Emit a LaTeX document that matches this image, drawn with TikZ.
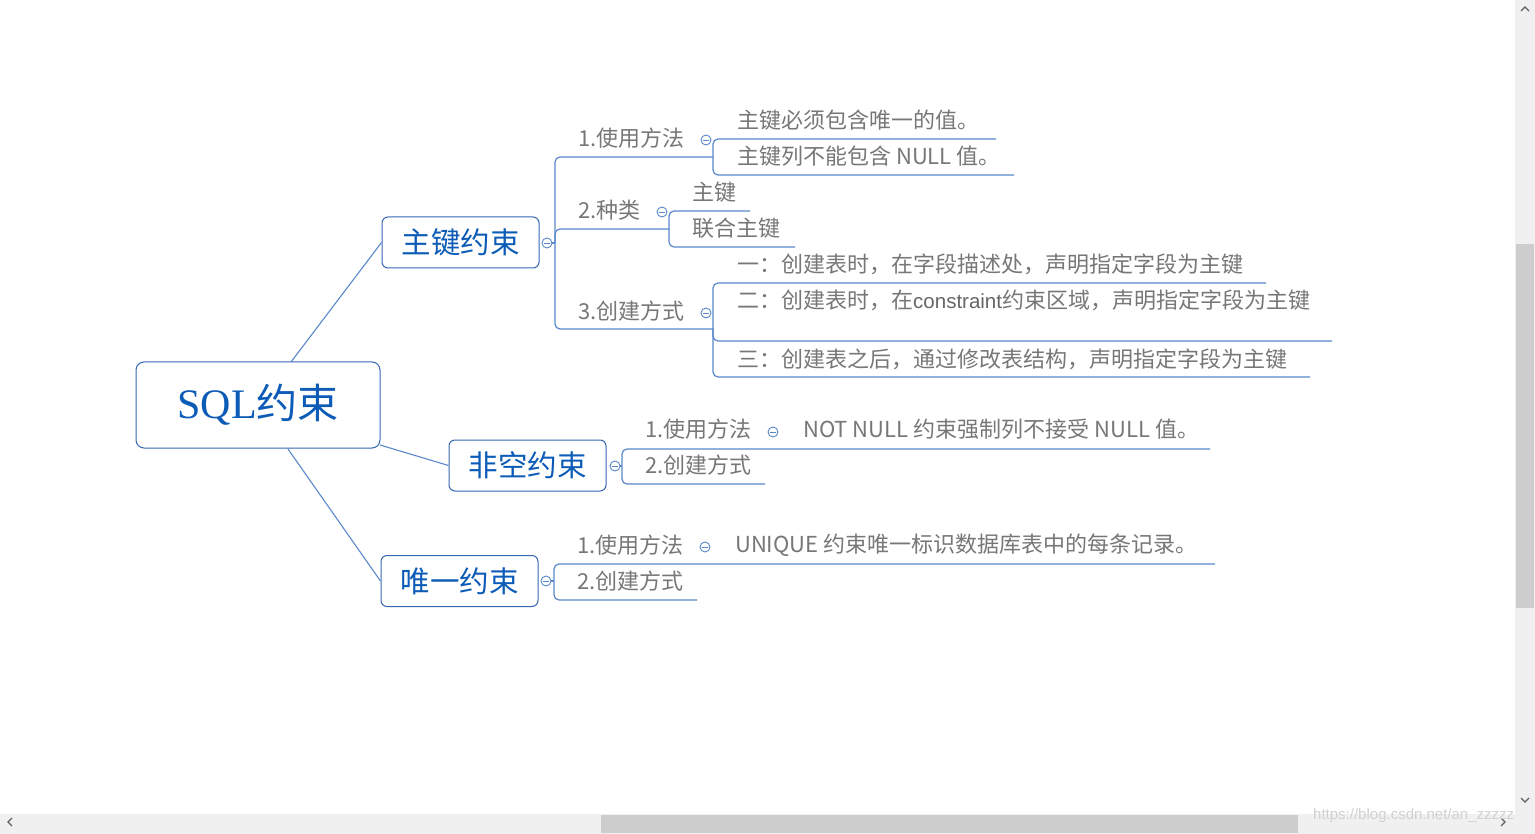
\documentclass[tikz,border=0pt]{standalone}
\usepackage{fontspec}
\setmainfont{Noto Sans CJK SC}
\newfontfamily\serifL{Liberation Serif}
\newfontfamily\sansL{Liberation Sans}
\definecolor{linec}{HTML}{5A88CC}
\definecolor{boxc}{HTML}{3567B2}
\definecolor{titlec}{HTML}{0B5BB7}
\definecolor{greyt}{HTML}{777777}
\definecolor{sbbg}{HTML}{F0F0F0}
\definecolor{sbthumb}{HTML}{CDCDCD}
\definecolor{sbarrow}{HTML}{606060}
\begin{document}
\begin{tikzpicture}[x=1pt,y=-1pt,
  conn/.style={draw=linec,line width=1.2pt,rounded corners=5pt},
  topic/.style={draw=boxc,line width=1pt,rounded corners=6pt,text=titlec,font=\fontsize{29.5}{30}\selectfont,minimum width=157pt,minimum height=51pt,inner sep=0pt},
  sub/.style={anchor=west,inner sep=0pt,text=greyt,font=\fontsize{22}{23}\selectfont},
  fold/.style={circle,draw=linec,fill=white,line width=0.9pt,minimum size=10pt,inner sep=0pt,
    path picture={\draw[linec,line width=0.8pt]([xshift=-2.6pt]path picture bounding box.center)--([xshift=2.6pt]path picture bounding box.center);}}
]
\useasboundingbox (0,0) rectangle (1535,834);
\fill[white] (0,0) rectangle (1535,834);

% ---- scrollbars ----
\fill[sbbg] (1515,0) rectangle (1535,814);
\fill[sbthumb] (1516,244) rectangle (1534,608);
\fill[sbbg] (0,814) rectangle (1535,834);
\fill[sbthumb] (601,815) rectangle (1298,833);
\draw[sbarrow,line width=1.3pt] (1521,11) -- (1525,7) -- (1529,11);
\draw[sbarrow,line width=1.3pt] (1521,798) -- (1525,802) -- (1529,798);
\draw[sbarrow,line width=1.3pt] (12,818) -- (8,822) -- (12,826);
\draw[sbarrow,line width=1.3pt] (1501,818) -- (1505,822) -- (1501,826);
\node[anchor=west,inner sep=0pt,text=black!18,font=\sansL\fontsize{15}{16}\selectfont] (wm) at (1313,816) {https://blog.csdn.net/an\_zzzzz};

% ---- root ----
\node[draw=boxc,line width=1pt,rounded corners=8pt,minimum width=244pt,minimum height=86pt,inner sep=0pt,text=titlec] (root) at (258,405)
  {{\serifL\fontsize{42}{44}\selectfont SQL}{\fontsize{41}{44}\selectfont 约束}};

% ---- main topics ----
\node[topic] (pk) at (460.5,242.5) {主键约束};
\node[topic] (nn) at (527.5,465.5) {非空约束};
\node[topic] (uq) at (459.5,581) {唯一约束};

\coordinate (r1) at (291,362);
\coordinate (r2) at (380,445);
\coordinate (r3) at (288,449);
\draw[linec,line width=1.1pt] (r1) -- (pk.west);
\draw[linec,line width=1.1pt] (r2) -- (nn.west);
\draw[linec,line width=1.1pt] (r3) -- (uq.west);

% ---- fold markers ----
\node[fold] (f1) at (547,243) {};
\node[fold] (f2) at (615,466) {};
\node[fold] (f3) at (546,581) {};
\node[fold] (f11) at (706,140) {};
\node[fold] (f12) at (662,212) {};
\node[fold] (f13) at (706,313) {};
\node[fold] (f21) at (773,432) {};
\node[fold] (f31) at (705,547) {};

% ---- 主键约束 children ----
\coordinate (j1) at (555,243);
\coordinate (a1) at (713,157);
\coordinate (a2) at (669,229);
\coordinate (a3) at (713,329);
\draw[conn] (f1.east) -- (j1);
\draw[conn] (j1) |- (a1);
\draw[conn] (j1) |- (a2);
\draw[conn] (j1) |- (a3);
\node[sub] (t11) at (578,138) {1.使用方法};
\node[sub] (t12) at (578,210) {2.种类};
\node[sub] (t13) at (578,311) {3.创建方式};

\coordinate (e111) at (996,139);
\coordinate (e112) at (1014,175);
\draw[conn] (a1) |- (e111);
\draw[conn] (a1) |- (e112);
\node[sub] (t111) at (737,120) {主键必须包含唯一的值。};
\node[sub] (t112) at (737,156) {主键列不能包含 NULL 值。};

\coordinate (e121) at (750,211);
\coordinate (e122) at (795,247);
\draw[conn] (a2) |- (e121);
\draw[conn] (a2) |- (e122);
\node[sub] (t121) at (692,192) {主键};
\node[sub] (t122) at (692,228) {联合主键};

\coordinate (e131) at (1266,283);
\coordinate (e132) at (1332,341);
\coordinate (e133) at (1310,377);
\draw[conn] (a3) |- (e131);
\draw[conn] (a3) |- (e132);
\draw[conn] (a3) |- (e133);
\node[sub] (t131) at (737,264) {一：创建表时，在字段描述处，声明指定字段为主键};
\node[sub] (t132) at (737,300) {二：创建表时，在{\sansL\fontsize{20.5}{22}\selectfont\color{black!60}constraint}约束区域，声明指定字段为主键};
\node[sub] (t133) at (737,359) {三：创建表之后，通过修改表结构，声明指定字段为主键};

% ---- 非空约束 children ----
\coordinate (j2) at (622,466);
\coordinate (e21) at (1210,449);
\coordinate (e22) at (765,484);
\draw[conn] (f2.east) -- (j2);
\draw[conn] (j2) |- (e21);
\draw[conn] (j2) |- (e22);
\node[sub] (t21) at (645,429) {1.使用方法};
\node[sub] (t211) at (803,429) {NOT NULL 约束强制列不接受 NULL 值。};
\node[sub] (t22) at (645,465) {2.创建方式};

% ---- 唯一约束 children ----
\coordinate (j3) at (554,581);
\coordinate (e31) at (1215,564);
\coordinate (e32) at (697,600);
\draw[conn] (f3.east) -- (j3);
\draw[conn] (j3) |- (e31);
\draw[conn] (j3) |- (e32);
\node[sub] (t31) at (577,545) {1.使用方法};
\node[sub] (t311) at (735,545) {UNIQUE 约束唯一标识数据库表中的每条记录。};
\node[sub] (t32) at (577,581) {2.创建方式};
\end{tikzpicture}
\end{document}
